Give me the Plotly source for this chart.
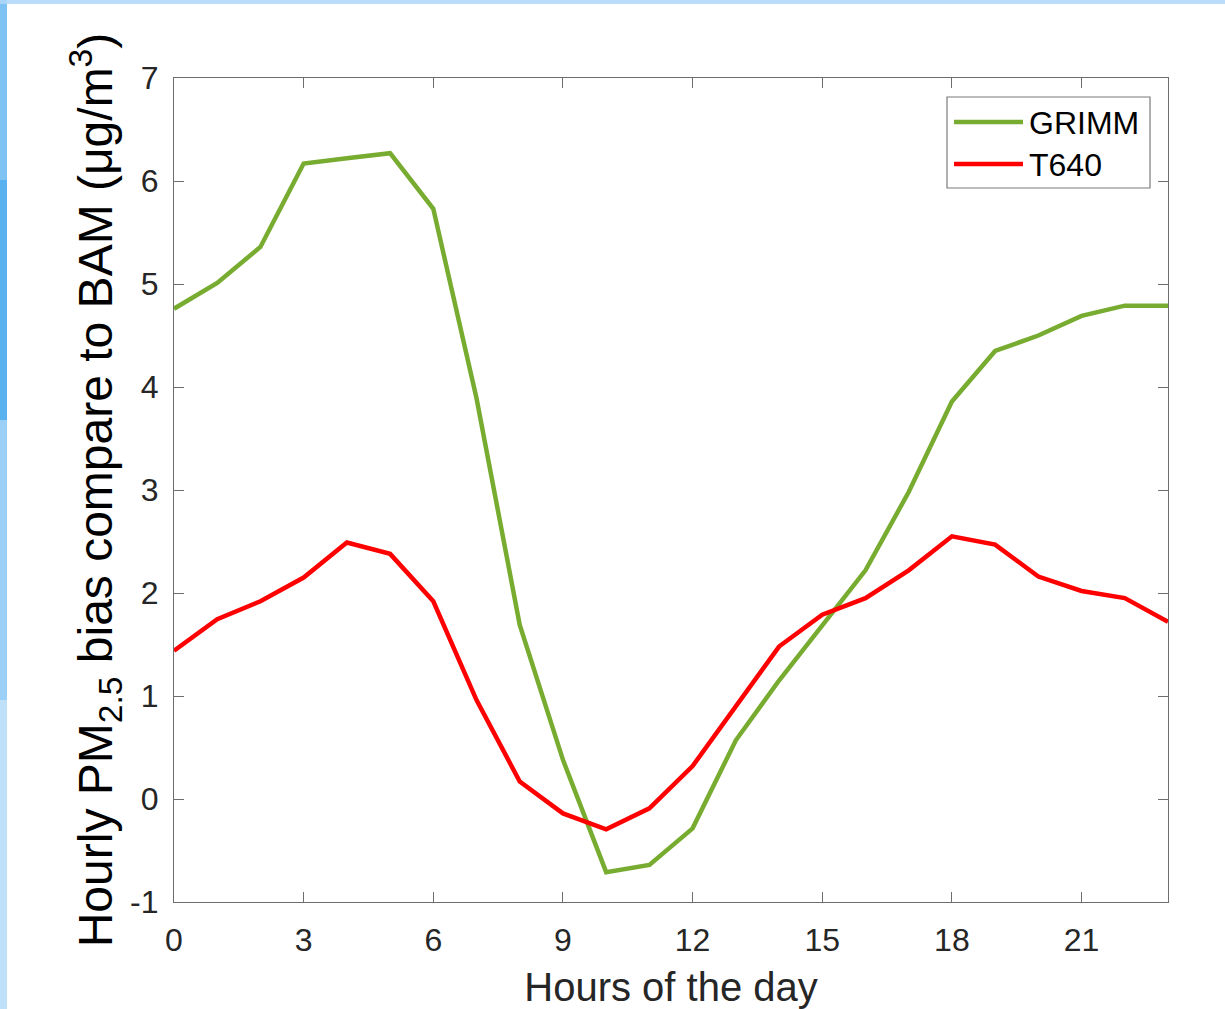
import plotly.graph_objects as go

# Hourly PM2.5 bias relative to BAM for two instruments
hours = list(range(24))
grimm_bias = [4.76, 5.01, 5.36, 6.17, 6.22, 6.27, 5.73, 3.89, 1.69, 0.38, -0.71, -0.64,
              -0.285, 0.57, 1.15, 1.68, 2.22, 2.98, 3.86, 4.35, 4.50, 4.69, 4.79, 4.79]
t640_bias = [1.44, 1.745, 1.92, 2.15, 2.49, 2.38, 1.92, 0.96, 0.17, -0.14, -0.295, -0.09,
             0.32, 0.90, 1.48, 1.79, 1.95, 2.22, 2.55, 2.47, 2.16, 2.02, 1.95, 1.72]
series_names = ["GRIMM", "T640"]
series_colors = ["#77AC30", "#FF0000"]
x_ticks = [0, 3, 6, 9, 12, 15, 18, 21]
y_ticks = [-1, 0, 1, 2, 3, 4, 5, 6, 7]
y_tick_text = ["-1", "0", "1", "2", "3", "4", "5", "6", "7"]

W, H = 1225, 1009
ML, MR, MT, MB = 174, 57, 78, 107
PW, PH = W - ML - MR, H - MT - MB


def px(xp):
    """pixel column -> paper x"""
    return (xp - ML) / PW


def py(yp):
    """pixel row -> paper y"""
    return (H - MB - yp) / PH


FONT = "Arial, 'Liberation Sans', sans-serif"
AXIS_COLOR = "#6e6e6e"
TICK_FONT = dict(family=FONT, size=32, color="#262626")

fig = go.Figure()
for name, vals, col in zip(series_names, [grimm_bias, t640_bias], series_colors):
    fig.add_trace(go.Scatter(x=hours, y=vals, mode="lines", name=name,
                             line=dict(color=col, width=4.5), showlegend=False))

axis_common = dict(showgrid=False, zeroline=False, showline=True, linecolor=AXIS_COLOR,
                   linewidth=1.2, mirror="ticks", ticks="inside", ticklen=10,
                   tickwidth=1.2, tickcolor=AXIS_COLOR, tickfont=TICK_FONT)

fig.update_xaxes(range=[0, 23], tickvals=x_ticks, ticklabelstandoff=9,
                 title=dict(text="Hours of the day", standoff=20,
                            font=dict(family=FONT, size=40, color="#262626")),
                 **axis_common)
fig.update_yaxes(range=[-1, 7], tickvals=y_ticks, ticktext=y_tick_text, ticklabelstandoff=8,
                 title=dict(text="Hourly PM<sub>2.5</sub> bias compare to BAM (μg/m<sup>3</sup>)",
                            standoff=2, font=dict(family=FONT, size=48, color="#000000")),
                 **axis_common)

shapes = []
# slide backdrop strips along the left and top edges
backdrop = [
    (0, 7, 0, 4, "#a9d5f7"),
    (0, 7, 4, 180, "#7fc2f4"),
    (0, 7, 180, 420, "#5ab1f0"),
    (0, 7, 420, 700, "#9ccff5"),
    (0, 7, 700, 1009, "#bfe0f9"),
    (7, 1225, 0, 4, "#b9ddfa"),
]
for x0, x1, y0, y1, c in backdrop:
    shapes.append(dict(type="rect", xref="paper", yref="paper",
                       x0=px(x0), x1=px(x1), y0=py(y1), y1=py(y0),
                       fillcolor=c, line=dict(width=0), layer="below"))

# legend box
shapes.append(dict(type="rect", xref="paper", yref="paper",
                   x0=px(947), x1=px(1150), y0=py(188), y1=py(97),
                   fillcolor="white", line=dict(color="#7a7a7a", width=1.2)))
legend_rows = [122, 164]
annotations = []
for name, col, yr in zip(series_names, series_colors, legend_rows):
    shapes.append(dict(type="line", xref="paper", yref="paper",
                       x0=px(954), x1=px(1023), y0=py(yr), y1=py(yr),
                       line=dict(color=col, width=4.5)))
    annotations.append(dict(xref="paper", yref="paper", x=px(1027), y=py(yr + 1),
                            text=name, showarrow=False, xanchor="left", yanchor="middle",
                            font=dict(family=FONT, size=32, color="#000000")))

fig.update_layout(width=W, height=H, margin=dict(l=ML, r=MR, t=MT, b=MB, autoexpand=False),
                  paper_bgcolor="white", plot_bgcolor="white",
                  shapes=shapes, annotations=annotations, showlegend=False)

fig.write_html("out.html")
